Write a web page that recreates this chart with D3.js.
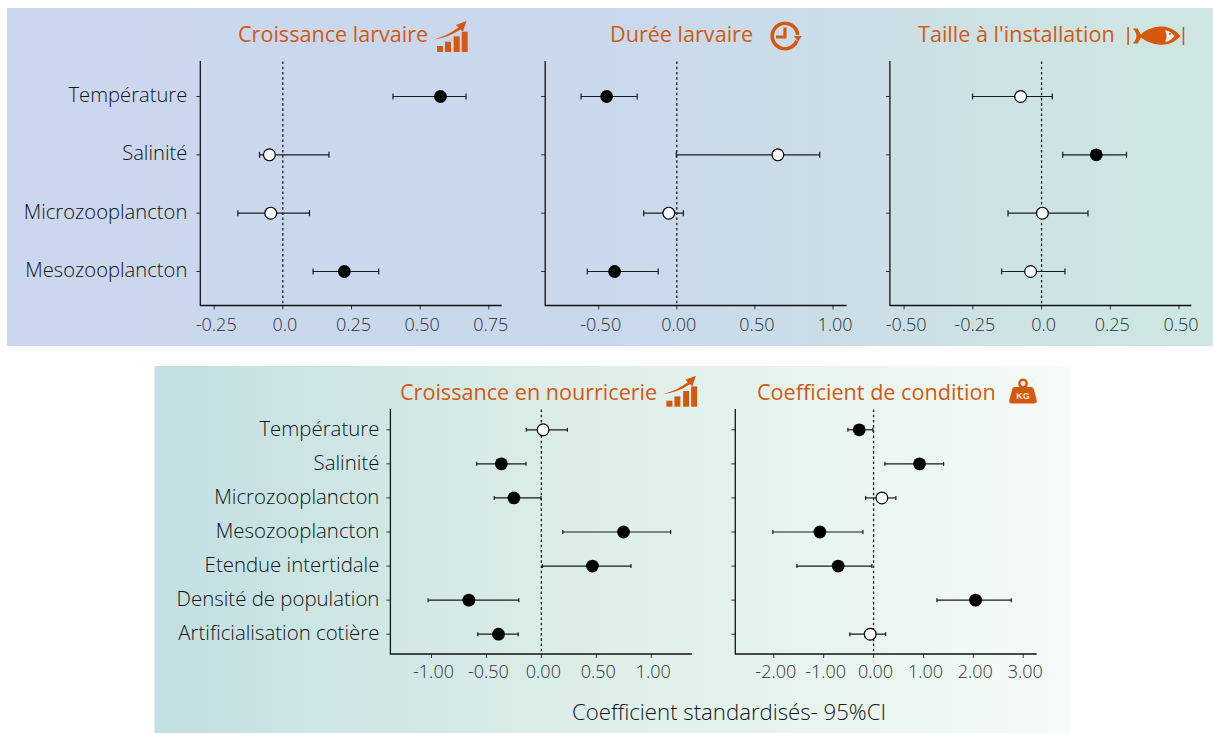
<!DOCTYPE html>
<html><head><meta charset="utf-8">
<script src="https://cdnjs.cloudflare.com/ajax/libs/d3/7.8.5/d3.min.js"></script>
<style>html,body{margin:0;padding:0;background:#fff}svg{display:block}text{font-family:"Open Sans",sans-serif;font-weight:300}</style>
</head><body><svg id="c" width="1213" height="733"></svg>
<script>
const topCategories=["Température","Salinité","Microzooplancton","Mesozooplancton"];
const bottomCategories=["Température","Salinité","Microzooplancton","Mesozooplancton","Etendue intertidale","Densité de population","Artificialisation cotière"];

const larvalGrowthEst=[0.574,-0.049,-0.044,0.224];
const larvalGrowthLo=[0.401,-0.085,-0.164,0.110];
const larvalGrowthHi=[0.667,0.168,0.097,0.349];
const larvalGrowthSig=[1,0,0,1];
const larvalGrowthTicks=[-0.25,0,0.25,0.5,0.75];
const larvalGrowthLabels=["-0.25","0.0","0.25","0.50","0.75"];

const durationEst=[-0.449,0.647,-0.051,-0.398];
const durationLo=[-0.613,-0.003,-0.212,-0.573];
const durationHi=[-0.254,0.915,0.042,-0.119];
const durationSig=[1,0,0,1];
const durationTicks=[-0.5,0,0.5,1];
const durationLabels=["-0.50","0.00","0.50","1.00"];

const sizeEst=[-0.076,0.199,0.003,-0.040];
const sizeLo=[-0.251,0.077,-0.122,-0.145];
const sizeHi=[0.039,0.309,0.169,0.085];
const sizeSig=[0,1,0,0];
const sizeTicks=[-0.5,-0.25,0,0.25,0.5];
const sizeLabels=["-0.50","-0.25","0.0","0.25","0.50"];

const nurseryEst=[0.016,-0.364,-0.250,0.748,0.465,-0.660,-0.390];
const nurseryLo=[-0.137,-0.589,-0.429,0.195,0.010,-1.031,-0.579];
const nurseryHi=[0.237,-0.140,-0.003,1.177,0.816,-0.205,-0.211];
const nurserySig=[0,1,1,1,1,1,1];
const nurseryTicks=[-1,-0.5,0,0.5,1];
const nurseryLabels=["-1.00","-0.50","0.00","0.50","1.00"];

const conditionEst=[-0.287,0.922,0.167,-1.076,-0.709,2.045,-0.067];
const conditionLo=[-0.515,0.227,-0.160,-2.019,-1.537,1.270,-0.475];
const conditionHi=[-0.013,1.404,0.448,-0.214,-0.033,2.760,0.241];
const conditionSig=[1,1,0,1,1,1,0];
const conditionTicks=[-2,-1,0,1,2,3];
const conditionLabels=["-2.00","-1.00","0.00","1.00","2.00","3.00"];

const titles=["Croissance larvaire","Durée larvaire","Taille à l'installation","Croissance en nourricerie","Coefficient de condition"];
const xCaption="Coefficient standardisés- 95%CI";

const svg=d3.select("#c");
const ORANGE="#d4590f";
const defs=svg.append("defs");
function grad(id,stops){
  const g=defs.append("linearGradient").attr("id",id);
  stops.forEach(s=>g.append("stop").attr("offset",s[0]).attr("stop-color",s[1]));
}
grad("g1",[[0,"#cad7ee"],[0.5,"#cad8ed"],[0.72,"#cbdfe6"],[1,"#cee7e2"]]);
grad("g2",[[0,"#c2dfe2"],[0.45,"#dcede8"],[0.75,"#e9f5f0"],[1,"#f5fbf8"]]);
svg.append("rect").attr("x",7).attr("y",8).attr("width",1206).attr("height",338).attr("fill","url(#g1)");
svg.append("rect").attr("x",154.5).attr("y",366).attr("width",915.5).attr("height",367).attr("fill","url(#g2)");

function panel(o){
  const x=d3.scaleLinear().domain([o.ticks[0],o.ticks[o.ticks.length-1]]).range([o.tx0,o.tx1]);
  const y=d3.scalePoint().domain(o.cats).range([o.y0,o.y1]);
  const g=svg.append("g");
  const xa=g.append("g").attr("transform",`translate(0,${o.bottom})`)
    .call(d3.axisBottom(x).tickValues(o.ticks).tickFormat((d,i)=>o.labels[i]).tickSize(4).tickPadding(6));
  xa.select(".domain").remove();
  xa.selectAll("line").attr("stroke","#333").attr("stroke-width",1);
  xa.selectAll("text").attr("font-size",o.tickFont).attr("fill","#2c3034").attr("dx",2).attr("dy",0).attr("y",o.tickY);
  const ya=g.append("g").attr("transform",`translate(${o.left},0)`)
    .call(d3.axisLeft(y).tickSize(4).tickPadding(o.catPad).tickFormat(d=>o.showCats?d:""));
  ya.select(".domain").remove();
  ya.selectAll("line").attr("stroke","#333").attr("stroke-width",1);
  ya.selectAll("text").attr("font-size",o.catFont).attr("fill","#111418").attr("dy",".28em");
  g.append("line").attr("x1",o.left).attr("x2",o.left).attr("y1",o.top).attr("y2",o.bottom+.6).attr("stroke","#111").attr("stroke-width",1.3);
  g.append("line").attr("x1",o.left).attr("x2",o.right).attr("y1",o.bottom).attr("y2",o.bottom).attr("stroke","#111").attr("stroke-width",1.3);
  const marks=g.append("g").attr("transform","translate(0.5,0.5)");
  marks.append("line").attr("x1",x(0)).attr("x2",x(0)).attr("y1",o.top).attr("y2",o.bottom).attr("stroke","#111").attr("stroke-width",1.2).attr("stroke-dasharray","2.6,2.6");
  const rows=o.cats.map((c,i)=>({c,e:o.est[i],l:o.lo[i],h:o.hi[i],s:o.sig[i]}));
  const r=marks.selectAll("g.row").data(rows).join("g").attr("class","row");
  r.append("line").attr("x1",d=>x(d.l)).attr("x2",d=>x(d.h)).attr("y1",d=>y(d.c)).attr("y2",d=>y(d.c)).attr("stroke","#1a1a1a").attr("stroke-width",1.2);
  [["l"],["h"]].forEach(([k])=>{
    r.append("line").attr("x1",d=>x(d[k])).attr("x2",d=>x(d[k])).attr("y1",d=>y(d.c)-o.cap).attr("y2",d=>y(d.c)+o.cap).attr("stroke","#1a1a1a").attr("stroke-width",1.2);
  });
  r.append("circle").attr("cx",d=>x(d.e)).attr("cy",d=>y(d.c)).attr("r",d=>d.s?6.4:5.9)
    .attr("fill",d=>d.s?"#000":"#fff").attr("stroke","#000").attr("stroke-width",d=>d.s?0:1.2);
}
const topY={top:61,bottom:305.5,y0:96,y1:271,cats:topCategories,tickFont:18,tickY:25,catFont:20.2,cap:3,catPad:9};
const botY={top:409,bottom:654,y0:429.3,y1:633.7,cats:bottomCategories,tickFont:18,tickY:23.5,catFont:20.4,cap:2,catPad:7};
panel({...topY,left:200.3,right:501.7,tx0:213.7,tx1:488.3,showCats:true,ticks:larvalGrowthTicks,labels:larvalGrowthLabels,est:larvalGrowthEst,lo:larvalGrowthLo,hi:larvalGrowthHi,sig:larvalGrowthSig});
panel({...topY,left:545.2,right:846.6,tx0:598.2,tx1:832.5,ticks:durationTicks,labels:durationLabels,est:durationEst,lo:durationLo,hi:durationHi,sig:durationSig});
panel({...topY,left:889.9,right:1191.4,tx0:903.6,tx1:1178.5,ticks:sizeTicks,labels:sizeLabels,est:sizeEst,lo:sizeLo,hi:sizeHi,sig:sizeSig});
panel({...botY,left:390.4,right:691.8,tx0:431,tx1:650.7,showCats:true,ticks:nurseryTicks,labels:nurseryLabels,est:nurseryEst,lo:nurseryLo,hi:nurseryHi,sig:nurserySig});
panel({...botY,left:735.3,right:1036.7,tx0:773.3,tx1:1022.7,ticks:conditionTicks,labels:conditionLabels,est:conditionEst,lo:conditionLo,hi:conditionHi,sig:conditionSig});

const titlePos=[[238,42],[610,42],[918,42],[400,400],[757,400]];
titles.forEach((t,i)=>svg.append("text").attr("x",titlePos[i][0]).attr("y",titlePos[i][1]).attr("font-size",21.6).attr("fill",ORANGE).style("font-weight",400).text(t));
svg.append("text").attr("x",572).attr("y",720).attr("font-size",22.2).attr("fill","#111418").text(xCaption);

function growthIcon(dx,dy){
  const g=svg.append("g").attr("transform",`translate(${dx},${dy})`).attr("fill",ORANGE);
  [[437,46,6],[445,41.7,6],[453.7,36.3,6],[461.7,31.7,6]].forEach(b=>g.append("rect").attr("x",b[0]).attr("y",b[1]).attr("width",b[2]).attr("height",52-b[1]));
  g.append("path").attr("d","M433.5 39.5 C443 37 451 33 458.5 27.5 L456 25 L466.5 21 L463 31.5 L460.5 29.5 C452 35 443 38.5 433.5 39.5Z");
}
growthIcon(0,0);growthIcon(229.4,354.7);
// clock
const cl=svg.append("g").attr("transform","translate(785,36)");
cl.append("path").attr("d",d3.arc()({innerRadius:11,outerRadius:14.6,startAngle:Math.PI*0.62,endAngle:Math.PI*2.47})).attr("fill",ORANGE);
cl.append("path").attr("d","M-1.6 -8.5 H1.6 V2.6 H-9 V-0.6 H-1.6Z").attr("fill",ORANGE);
cl.append("path").attr("d","M9 0 H17 L13 5.6Z").attr("fill",ORANGE);
// fish
const f=svg.append("g").attr("transform","translate(1128,36)").attr("fill",ORANGE);
f.append("rect").attr("x",-0.7).attr("y",-9).attr("width",1.6).attr("height",18);
f.append("rect").attr("x",54.6).attr("y",-9).attr("width",1.6).attr("height",18);
f.append("path").attr("d","M5 -7.5 L9.5 -7.5 C11 -5 12 -3 13 -1.5 C18 -7 27 -9.5 34 -9.5 C43 -9.5 49 -4 52.5 0 C49 4 43 8.8 34 8.8 C27 8.8 18 6 13 1.5 C12 3.5 11 5.5 9.5 7.5 L5 7.5 C7.5 4 8.5 2 8.5 0 C8.5 -2.5 7 -5 5 -7.5Z");
f.append("path").attr("d","M37 -5.8 C40.5 -5.8 43.5 -3.5 46.5 0 C43.5 3.5 40.5 5.8 37 5.8 C39 2 39 -2 37 -5.8Z").attr("fill","#e4f0ee");
f.append("circle").attr("cx",42).attr("cy",-2).attr("r",1.1);
// weight
const w=svg.append("g").attr("transform","translate(1023,0)");
w.append("circle").attr("cx",0).attr("cy",383.5).attr("r",3.7).attr("fill","none").attr("stroke",ORANGE).attr("stroke-width",2.4);
w.append("path").attr("d","M-8 387 H8 C10 387 10.5 388 11 390 L13.7 400 C14.2 402.5 13 403.5 11 403.5 H-11 C-13 403.5 -14.2 402.5 -13.7 400 L-11 390 C-10.5 388 -10 387 -8 387Z").attr("fill",ORANGE);
w.append("text").attr("x",0).attr("y",398.6).attr("text-anchor","middle").attr("font-size",9).attr("fill","#f6ebe0").style("font-family","Liberation Sans").style("font-weight",700).text("KG");
</script></body></html>
